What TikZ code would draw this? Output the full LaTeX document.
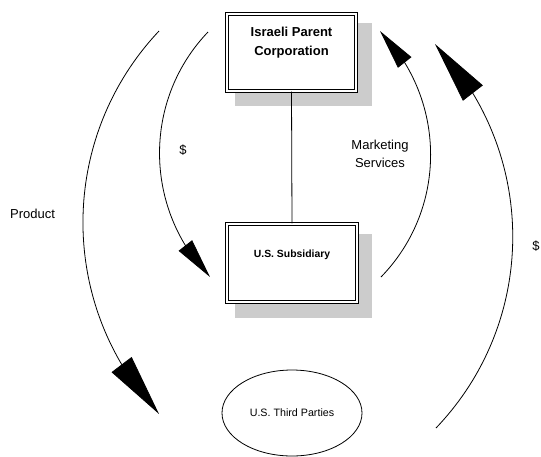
\documentclass[tikz,border=0pt]{standalone}
\usepackage{fontspec}
\setmainfont{Liberation Sans}
\usetikzlibrary{arrows.meta,bending,shapes.geometric,backgrounds}
\begin{document}
\begin{tikzpicture}[x=1pt,y=-1pt,
  entity/.style={draw, double, line width=1.1pt, double distance=1.6pt,
    fill=white, inner sep=0},
  entitytext/.style={font=\bfseries\fontsize{#1}{19}\selectfont, align=center},
  shadowfill/.style={fill=black!20},
  flow/.style={line width=0.8pt},
  bigtip/.style={-{Triangle[length=62pt,width=25pt,flex]}},
  smalltip/.style={-{Triangle[length=40pt,width=17pt,flex]}},
  lbl/.style={font=\fontsize{13}{18}\selectfont, align=center}]
\useasboundingbox (0,0) rectangle (541,456);

% boxes
\node[entity, minimum width=129pt, minimum height=77pt] (par) at (291.5,52.5) {};
\node[entitytext=13] (partext) at (291.5,42.5) {Israeli Parent\\Corporation};
\node[entity, minimum width=130pt, minimum height=78pt] (sub) at (292,263) {};
\node[entitytext=10.4] (subtext) at (292,255) {U.S. Subsidiary};
\node[draw, ellipse, line width=0.8pt, inner sep=0,
  minimum width=140pt, minimum height=86pt,
  font=\fontsize{10.7}{13}\selectfont] (third) at (292,413) {U.S. Third Parties};

% drop shadows behind the boxes
\begin{pgfonlayer}{background}
  \fill[shadowfill] ([xshift=9pt,yshift=-10pt]par.north west)
    rectangle ([xshift=15pt,yshift=-14pt]par.south east);
  \fill[shadowfill] ([xshift=9pt,yshift=-11pt]sub.north west)
    rectangle ([xshift=14pt,yshift=-15pt]sub.south east);
\end{pgfonlayer}

% ownership link
\draw[line width=0.8pt] (par.south) -- (sub.north);

% flow arcs
\coordinate (a1s) at (208,32);  \coordinate (a1e) at (210,277);
\coordinate (a2s) at (159,31);  \coordinate (a2e) at (159,414);
\coordinate (a3s) at (381,277); \coordinate (a3e) at (380,31);
\coordinate (a4s) at (436,428); \coordinate (a4e) at (435,44);

\draw[flow,smalltip] (a1s) .. controls (142.3,100.6) and (143.8,209.5) .. (a1e);
\draw[flow,bigtip] (a2s) .. controls (57.6,138.6) and (57.6,306.4) .. (a2e);
\draw[flow,smalltip] (a3s) .. controls (447.8,208.5) and (446.8,99) .. (a3e);
\draw[flow,bigtip] (a4s) .. controls (539,320.3) and (538,151.1) .. (a4e);

% labels
\node[lbl] (d1) at (183,150) {\$};
\node[lbl] (prod) at (32.5,214) {Product};
\node[lbl] (mkt) at (380,154) {Marketing\\Services};
\node[lbl] (d2) at (536,246) {\$};
\end{tikzpicture}
\end{document}
